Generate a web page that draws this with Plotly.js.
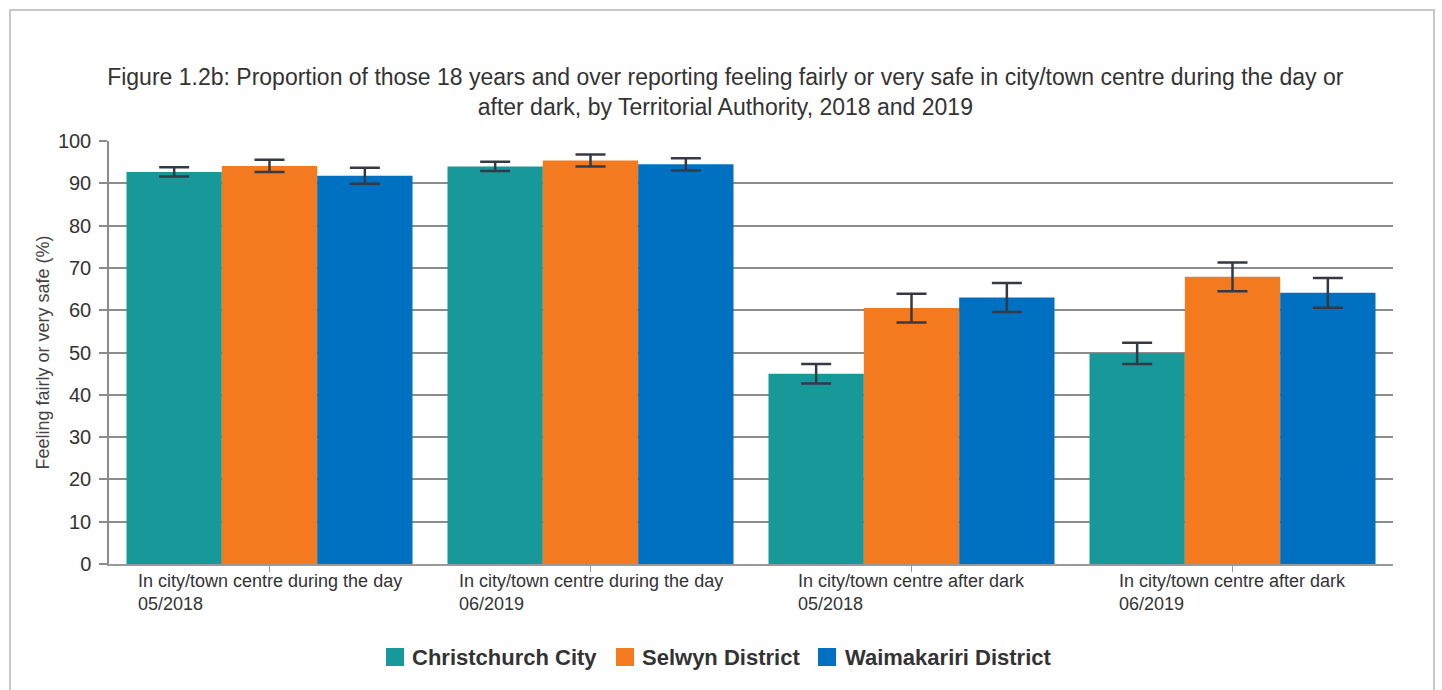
<!DOCTYPE html>
<html>
<head>
<meta charset="utf-8">
<script src="https://cdn.plot.ly/plotly-3.0.1.min.js"></script>
<style>
  html, body { margin: 0; padding: 0; background: #ffffff; }
  #wrap { position: relative; width: 1442px; height: 690px; overflow: hidden; }
  #frame { position: absolute; left: 9px; top: 9px; width: 1426px; height: 720px;
           border: 2px solid #c8c8c8; box-sizing: border-box; pointer-events: none; }
  #chart { position: absolute; left: 0; top: 0; width: 1442px; height: 690px; }
</style>
</head>
<body>
<div id="wrap">
  <div id="chart"></div>
  <div id="frame"></div>
</div>
<script>
// ---- data ----
const categories = [
  "In city/town centre during the day<br>05/2018",
  "In city/town centre during the day<br>06/2019",
  "In city/town centre after dark<br>05/2018",
  "In city/town centre after dark<br>06/2019"
];
const seriesNames = ["Christchurch City", "Selwyn District", "Waimakariri District"];
const christchurch = [92.7, 94.0, 45.0, 49.8];
const christchurchErr = [1.1, 1.1, 2.3, 2.5];
const selwyn = [94.1, 95.4, 60.5, 67.9];
const selwynErr = [1.45, 1.4, 3.4, 3.4];
const waimakariri = [91.8, 94.5, 63.0, 64.1];
const waimakaririErr = [1.9, 1.45, 3.45, 3.5];
const yTicks = [0, 10, 20, 30, 40, 50, 60, 70, 80, 90, 100];

const colors = ["#17999a", "#f47a20", "#0070c0"];
const values = [christchurch, selwyn, waimakariri];
const errs = [christchurchErr, selwynErr, waimakaririErr];

const catIdx = categories.map((c, i) => i);

const traces = seriesNames.map((name, k) => ({
  type: "bar",
  name: name,
  x: catIdx,
  y: values[k],
  marker: { color: colors[k], line: { width: 0 } },
  error_y: {
    type: "data", array: errs[k], visible: true,
    color: "#343a45", thickness: 2.5, width: 15
  },
  hoverinfo: "y+name",
  showlegend: false
}));

const fontFam = "Liberation Sans, Arial, sans-serif";

// plot-area geometry (pixels) used to place the hand-made legend
const M = { l: 109, r: 49, t: 141, b: 126 };
const W = 1442, H = 690;
const pw = W - M.l - M.r, ph = H - M.t - M.b;
const px2x = px => (px - M.l) / pw;
const py2y = py => (H - M.b - py) / ph;

const annotations = categories.map((c, i) => ({
  xref: "x", yref: "paper", x: i, y: 0,
  xanchor: "center", yanchor: "top", yshift: -5,
  text: c, showarrow: false, align: "left",
  font: { family: fontFam, size: 18, color: "#333333" }
}));

// custom legend: square + bold label for each series
const legendSquareLeft = [386, 616, 818];
const legendTextLeft = [410, 640, 843];
const legendMidY = 657;
const legendSize = 18;
const shapes = [];
seriesNames.forEach((name, k) => {
  shapes.push({
    type: "rect", xref: "paper", yref: "paper",
    x0: px2x(legendSquareLeft[k]), x1: px2x(legendSquareLeft[k] + legendSize),
    y0: py2y(legendMidY + legendSize / 2), y1: py2y(legendMidY - legendSize / 2),
    fillcolor: colors[k], line: { width: 0 }
  });
  annotations.push({
    xref: "paper", yref: "paper",
    x: px2x(legendTextLeft[k]), y: py2y(legendMidY),
    xanchor: "left", yanchor: "middle",
    text: "<b>" + name + "</b>", showarrow: false,
    font: { family: fontFam, size: 22, color: "#333333" }
  });
});

const layout = {
  width: W, height: H,
  paper_bgcolor: "rgba(0,0,0,0)",
  plot_bgcolor: "#ffffff",
  margin: M,
  font: { family: fontFam, color: "#333333" },
  title: {
    text: "Figure 1.2b: Proportion of those 18 years and over reporting feeling fairly or very safe in city/town centre during the day or<br>after dark, by Territorial Authority, 2018 and 2019",
    font: { family: fontFam, size: 23, color: "#333333" },
    x: 0.503, xanchor: "center",
    y: 1 - 85 / 690, yanchor: "middle"
  },
  barmode: "group",
  bargap: 0.109,
  bargroupgap: 0,
  xaxis: {
    type: "linear",
    range: [-0.5, categories.length - 0.5],
    tickvals: catIdx,
    showticklabels: false,
    ticks: "outside", ticklen: 6, tickcolor: "#999999", tickwidth: 1,
    showline: true, linecolor: "#999999", linewidth: 2,
    showgrid: false, zeroline: false, fixedrange: true
  },
  yaxis: {
    range: [0, 100],
    tickvals: yTicks,
    ticks: "outside", ticklen: 8, tickcolor: "#8c8c8c", tickwidth: 1.5,
    ticklabelstandoff: 4,
    tickfont: { family: fontFam, size: 20, color: "#333333" },
    showline: true, linecolor: "#8c8c8c", linewidth: 1.5,
    showgrid: true, gridcolor: "#8c8c8c", gridwidth: 1.5,
    zeroline: false, fixedrange: true,
    title: {
      text: "Feeling fairly or very safe (%)",
      font: { family: fontFam, size: 18, color: "#444444" },
      standoff: 4
    }
  },
  showlegend: false,
  shapes: shapes,
  annotations: annotations
};

Plotly.newPlot("chart", traces, layout, { displayModeBar: false, staticPlot: false });
</script>
</body>
</html>
